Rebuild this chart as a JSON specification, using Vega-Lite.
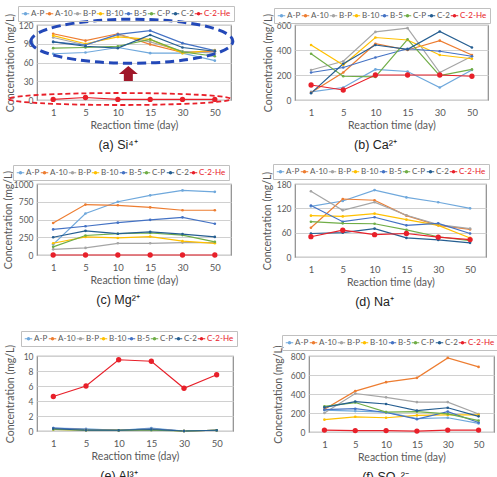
{
"$schema":"https://vega.github.io/schema/vega-lite/v6.json",
"padding":{"left":2,"top":4,"right":0,"bottom":0},
"background":"white",
"config":{
 "view":{"stroke":"#8c8c8c","strokeWidth":1.2},
 "axis":{"labelFont":"Lato","titleFont":"Lato","labelFontSize":9.5,"titleFontSize":10.5,"labelColor":"#595959","titleColor":"#595959","titleFontWeight":"normal","ticks":false,"domain":false,"gridColor":"#d0d0d0","format":"d"},
 "axisX":{"labelAngle":0,"grid":false,"labelPadding":7,"titlePadding":4},
 "axisY":{"labelPadding":4,"labelFontSize":8.5},
 "legend":{"direction":"horizontal","labelFont":"Lato","labelFontSize":8,"labelColor":"#595959","symbolType":"M-1,0L1,0M-0.3,0A0.3,0.3 0 1 1 0.3,0A0.3,0.3 0 1 1 -0.3,0","symbolSize":56,"symbolStrokeWidth":1.1,"symbolOffset":0,"labelOffset":1,"columnPadding":-5,"padding":3,"strokeColor":"#c0c0c0"},
 "title":{"font":"Liberation Sans","fontSize":12.5,"fontWeight":"normal","color":"#222222","orient":"bottom","offset":8,"dx":-16}
},
"data":{"values":[
{"p":"a","s":"A-P","d":"1","v":74},{"p":"a","s":"A-P","d":"5","v":76},{"p":"a","s":"A-P","d":"10","v":84},{"p":"a","s":"A-P","d":"15","v":75},{"p":"a","s":"A-P","d":"30","v":75},{"p":"a","s":"A-P","d":"50","v":63},
{"p":"a","s":"A-10","d":"1","v":106},{"p":"a","s":"A-10","d":"5","v":95},{"p":"a","s":"A-10","d":"10","v":106},{"p":"a","s":"A-10","d":"15","v":89},{"p":"a","s":"A-10","d":"30","v":76},{"p":"a","s":"A-10","d":"50","v":78},
{"p":"a","s":"B-P","d":"1","v":100},{"p":"a","s":"B-P","d":"5","v":88},{"p":"a","s":"B-P","d":"10","v":104},{"p":"a","s":"B-P","d":"15","v":93},{"p":"a","s":"B-P","d":"30","v":78},{"p":"a","s":"B-P","d":"50","v":75},
{"p":"a","s":"B-10","d":"1","v":103},{"p":"a","s":"B-10","d":"5","v":90},{"p":"a","s":"B-10","d":"10","v":101},{"p":"a","s":"B-10","d":"15","v":97},{"p":"a","s":"B-10","d":"30","v":75},{"p":"a","s":"B-10","d":"50","v":80},
{"p":"a","s":"B-5","d":"1","v":93},{"p":"a","s":"B-5","d":"5","v":88},{"p":"a","s":"B-5","d":"10","v":105},{"p":"a","s":"B-5","d":"15","v":111},{"p":"a","s":"B-5","d":"30","v":91},{"p":"a","s":"B-5","d":"50","v":79},
{"p":"a","s":"C-P","d":"1","v":83},{"p":"a","s":"C-P","d":"5","v":84},{"p":"a","s":"C-P","d":"10","v":86},{"p":"a","s":"C-P","d":"15","v":97},{"p":"a","s":"C-P","d":"30","v":77},{"p":"a","s":"C-P","d":"50","v":70},
{"p":"a","s":"C-2","d":"1","v":93},{"p":"a","s":"C-2","d":"5","v":86},{"p":"a","s":"C-2","d":"10","v":83},{"p":"a","s":"C-2","d":"15","v":104},{"p":"a","s":"C-2","d":"30","v":84},{"p":"a","s":"C-2","d":"50","v":78},
{"p":"a","s":"C-2-He","d":"1","v":1},{"p":"a","s":"C-2-He","d":"5","v":4},{"p":"a","s":"C-2-He","d":"10","v":1},{"p":"a","s":"C-2-He","d":"15","v":1},{"p":"a","s":"C-2-He","d":"30","v":1},{"p":"a","s":"C-2-He","d":"50","v":1},
{"p":"b","s":"A-P","d":"1","v":65},{"p":"b","s":"A-P","d":"5","v":100},{"p":"b","s":"A-P","d":"10","v":245},{"p":"b","s":"A-P","d":"15","v":228},{"p":"b","s":"A-P","d":"30","v":100},{"p":"b","s":"A-P","d":"50","v":240},
{"p":"b","s":"A-10","d":"1","v":60},{"p":"b","s":"A-10","d":"5","v":220},{"p":"b","s":"A-10","d":"10","v":450},{"p":"b","s":"A-10","d":"15","v":400},{"p":"b","s":"A-10","d":"30","v":475},{"p":"b","s":"A-10","d":"50","v":360},
{"p":"b","s":"B-P","d":"1","v":240},{"p":"b","s":"B-P","d":"5","v":310},{"p":"b","s":"B-P","d":"10","v":545},{"p":"b","s":"B-P","d":"15","v":575},{"p":"b","s":"B-P","d":"30","v":220},{"p":"b","s":"B-P","d":"50","v":350},
{"p":"b","s":"B-10","d":"1","v":440},{"p":"b","s":"B-10","d":"5","v":280},{"p":"b","s":"B-10","d":"10","v":500},{"p":"b","s":"B-10","d":"15","v":480},{"p":"b","s":"B-10","d":"30","v":360},{"p":"b","s":"B-10","d":"50","v":330},
{"p":"b","s":"B-5","d":"1","v":220},{"p":"b","s":"B-5","d":"5","v":260},{"p":"b","s":"B-5","d":"10","v":340},{"p":"b","s":"B-5","d":"15","v":410},{"p":"b","s":"B-5","d":"30","v":390},{"p":"b","s":"B-5","d":"50","v":350},
{"p":"b","s":"C-P","d":"1","v":370},{"p":"b","s":"C-P","d":"5","v":190},{"p":"b","s":"C-P","d":"10","v":185},{"p":"b","s":"C-P","d":"15","v":485},{"p":"b","s":"C-P","d":"30","v":195},{"p":"b","s":"C-P","d":"50","v":245},
{"p":"b","s":"C-2","d":"1","v":55},{"p":"b","s":"C-2","d":"5","v":290},{"p":"b","s":"C-2","d":"10","v":440},{"p":"b","s":"C-2","d":"15","v":405},{"p":"b","s":"C-2","d":"30","v":548},{"p":"b","s":"C-2","d":"50","v":420},
{"p":"b","s":"C-2-He","d":"1","v":120},{"p":"b","s":"C-2-He","d":"5","v":80},{"p":"b","s":"C-2-He","d":"10","v":200},{"p":"b","s":"C-2-He","d":"15","v":200},{"p":"b","s":"C-2-He","d":"30","v":200},{"p":"b","s":"C-2-He","d":"50","v":190},
{"p":"c","s":"A-P","d":"1","v":150},{"p":"c","s":"A-P","d":"5","v":585},{"p":"c","s":"A-P","d":"10","v":750},{"p":"c","s":"A-P","d":"15","v":840},{"p":"c","s":"A-P","d":"30","v":910},{"p":"c","s":"A-P","d":"50","v":890},
{"p":"c","s":"A-10","d":"1","v":450},{"p":"c","s":"A-10","d":"5","v":710},{"p":"c","s":"A-10","d":"10","v":700},{"p":"c","s":"A-10","d":"15","v":670},{"p":"c","s":"A-10","d":"30","v":630},{"p":"c","s":"A-10","d":"50","v":630},
{"p":"c","s":"B-P","d":"1","v":80},{"p":"c","s":"B-P","d":"5","v":100},{"p":"c","s":"B-P","d":"10","v":165},{"p":"c","s":"B-P","d":"15","v":165},{"p":"c","s":"B-P","d":"30","v":175},{"p":"c","s":"B-P","d":"50","v":175},
{"p":"c","s":"B-10","d":"1","v":165},{"p":"c","s":"B-10","d":"5","v":255},{"p":"c","s":"B-10","d":"10","v":240},{"p":"c","s":"B-10","d":"15","v":260},{"p":"c","s":"B-10","d":"30","v":195},{"p":"c","s":"B-10","d":"50","v":165},
{"p":"c","s":"B-5","d":"1","v":360},{"p":"c","s":"B-5","d":"5","v":405},{"p":"c","s":"B-5","d":"10","v":455},{"p":"c","s":"B-5","d":"15","v":495},{"p":"c","s":"B-5","d":"30","v":530},{"p":"c","s":"B-5","d":"50","v":440},
{"p":"c","s":"C-P","d":"1","v":115},{"p":"c","s":"C-P","d":"5","v":275},{"p":"c","s":"C-P","d":"10","v":300},{"p":"c","s":"C-P","d":"15","v":310},{"p":"c","s":"C-P","d":"30","v":280},{"p":"c","s":"C-P","d":"50","v":185},
{"p":"c","s":"C-2","d":"1","v":250},{"p":"c","s":"C-2","d":"5","v":340},{"p":"c","s":"C-2","d":"10","v":300},{"p":"c","s":"C-2","d":"15","v":325},{"p":"c","s":"C-2","d":"30","v":295},{"p":"c","s":"C-2","d":"50","v":255},
{"p":"c","s":"C-2-He","d":"1","v":0},{"p":"c","s":"C-2-He","d":"5","v":0},{"p":"c","s":"C-2-He","d":"10","v":0},{"p":"c","s":"C-2-He","d":"15","v":0},{"p":"c","s":"C-2-He","d":"30","v":0},{"p":"c","s":"C-2-He","d":"50","v":0},
{"p":"d","s":"A-P","d":"1","v":125},{"p":"d","s":"A-P","d":"5","v":138},{"p":"d","s":"A-P","d":"10","v":165},{"p":"d","s":"A-P","d":"15","v":147},{"p":"d","s":"A-P","d":"30","v":135},{"p":"d","s":"A-P","d":"50","v":120},
{"p":"d","s":"A-10","d":"1","v":72},{"p":"d","s":"A-10","d":"5","v":143},{"p":"d","s":"A-10","d":"10","v":140},{"p":"d","s":"A-10","d":"15","v":102},{"p":"d","s":"A-10","d":"30","v":78},{"p":"d","s":"A-10","d":"50","v":68},
{"p":"d","s":"B-P","d":"1","v":162},{"p":"d","s":"B-P","d":"5","v":115},{"p":"d","s":"B-P","d":"10","v":135},{"p":"d","s":"B-P","d":"15","v":103},{"p":"d","s":"B-P","d":"30","v":80},{"p":"d","s":"B-P","d":"50","v":70},
{"p":"d","s":"B-10","d":"1","v":102},{"p":"d","s":"B-10","d":"5","v":100},{"p":"d","s":"B-10","d":"10","v":107},{"p":"d","s":"B-10","d":"15","v":92},{"p":"d","s":"B-10","d":"30","v":78},{"p":"d","s":"B-10","d":"50","v":47},
{"p":"d","s":"B-5","d":"1","v":127},{"p":"d","s":"B-5","d":"5","v":87},{"p":"d","s":"B-5","d":"10","v":98},{"p":"d","s":"B-5","d":"15","v":78},{"p":"d","s":"B-5","d":"30","v":83},{"p":"d","s":"B-5","d":"50","v":58},
{"p":"d","s":"C-P","d":"1","v":87},{"p":"d","s":"C-P","d":"5","v":83},{"p":"d","s":"C-P","d":"10","v":82},{"p":"d","s":"C-P","d":"15","v":67},{"p":"d","s":"C-P","d":"30","v":50},{"p":"d","s":"C-P","d":"50","v":40},
{"p":"d","s":"C-2","d":"1","v":58},{"p":"d","s":"C-2","d":"5","v":60},{"p":"d","s":"C-2","d":"10","v":70},{"p":"d","s":"C-2","d":"15","v":47},{"p":"d","s":"C-2","d":"30","v":42},{"p":"d","s":"C-2","d":"50","v":35},
{"p":"d","s":"C-2-He","d":"1","v":50},{"p":"d","s":"C-2-He","d":"5","v":66},{"p":"d","s":"C-2-He","d":"10","v":55},{"p":"d","s":"C-2-He","d":"15","v":58},{"p":"d","s":"C-2-He","d":"30","v":49},{"p":"d","s":"C-2-He","d":"50","v":43},
{"p":"e","s":"A-P","d":"1","v":0.4},{"p":"e","s":"A-P","d":"5","v":0.3},{"p":"e","s":"A-P","d":"10","v":0.1},{"p":"e","s":"A-P","d":"15","v":0.4},{"p":"e","s":"A-P","d":"30","v":0.0},{"p":"e","s":"A-P","d":"50","v":0.1},
{"p":"e","s":"A-10","d":"1","v":0.3},{"p":"e","s":"A-10","d":"5","v":0.2},{"p":"e","s":"A-10","d":"10","v":0.1},{"p":"e","s":"A-10","d":"15","v":0.2},{"p":"e","s":"A-10","d":"30","v":0.0},{"p":"e","s":"A-10","d":"50","v":0.1},
{"p":"e","s":"B-P","d":"1","v":0.3},{"p":"e","s":"B-P","d":"5","v":0.2},{"p":"e","s":"B-P","d":"10","v":0.1},{"p":"e","s":"B-P","d":"15","v":0.3},{"p":"e","s":"B-P","d":"30","v":0.0},{"p":"e","s":"B-P","d":"50","v":0.1},
{"p":"e","s":"B-10","d":"1","v":0.2},{"p":"e","s":"B-10","d":"5","v":0.1},{"p":"e","s":"B-10","d":"10","v":0.1},{"p":"e","s":"B-10","d":"15","v":0.2},{"p":"e","s":"B-10","d":"30","v":0.0},{"p":"e","s":"B-10","d":"50","v":0.1},
{"p":"e","s":"B-5","d":"1","v":0.4},{"p":"e","s":"B-5","d":"5","v":0.2},{"p":"e","s":"B-5","d":"10","v":0.1},{"p":"e","s":"B-5","d":"15","v":0.3},{"p":"e","s":"B-5","d":"30","v":0.0},{"p":"e","s":"B-5","d":"50","v":0.1},
{"p":"e","s":"C-P","d":"1","v":0.2},{"p":"e","s":"C-P","d":"5","v":0.1},{"p":"e","s":"C-P","d":"10","v":0.1},{"p":"e","s":"C-P","d":"15","v":0.1},{"p":"e","s":"C-P","d":"30","v":0.0},{"p":"e","s":"C-P","d":"50","v":0.1},
{"p":"e","s":"C-2","d":"1","v":0.3},{"p":"e","s":"C-2","d":"5","v":0.1},{"p":"e","s":"C-2","d":"10","v":0.1},{"p":"e","s":"C-2","d":"15","v":0.2},{"p":"e","s":"C-2","d":"30","v":0.0},{"p":"e","s":"C-2","d":"50","v":0.1},
{"p":"e","s":"C-2-He","d":"1","v":4.6},{"p":"e","s":"C-2-He","d":"5","v":6.0},{"p":"e","s":"C-2-He","d":"10","v":9.5},{"p":"e","s":"C-2-He","d":"15","v":9.3},{"p":"e","s":"C-2-He","d":"30","v":5.7},{"p":"e","s":"C-2-He","d":"50","v":7.5},
{"p":"f","s":"A-P","d":"1","v":230},{"p":"f","s":"A-P","d":"5","v":220},{"p":"f","s":"A-P","d":"10","v":210},{"p":"f","s":"A-P","d":"15","v":140},{"p":"f","s":"A-P","d":"30","v":150},{"p":"f","s":"A-P","d":"50","v":90},
{"p":"f","s":"A-10","d":"1","v":240},{"p":"f","s":"A-10","d":"5","v":430},{"p":"f","s":"A-10","d":"10","v":525},{"p":"f","s":"A-10","d":"15","v":570},{"p":"f","s":"A-10","d":"30","v":780},{"p":"f","s":"A-10","d":"50","v":685},
{"p":"f","s":"B-P","d":"1","v":200},{"p":"f","s":"B-P","d":"5","v":405},{"p":"f","s":"B-P","d":"10","v":365},{"p":"f","s":"B-P","d":"15","v":315},{"p":"f","s":"B-P","d":"30","v":315},{"p":"f","s":"B-P","d":"50","v":190},
{"p":"f","s":"B-10","d":"1","v":130},{"p":"f","s":"B-10","d":"5","v":160},{"p":"f","s":"B-10","d":"10","v":150},{"p":"f","s":"B-10","d":"15","v":175},{"p":"f","s":"B-10","d":"30","v":180},{"p":"f","s":"B-10","d":"50","v":180},
{"p":"f","s":"B-5","d":"1","v":235},{"p":"f","s":"B-5","d":"5","v":245},{"p":"f","s":"B-5","d":"10","v":205},{"p":"f","s":"B-5","d":"15","v":135},{"p":"f","s":"B-5","d":"30","v":215},{"p":"f","s":"B-5","d":"50","v":100},
{"p":"f","s":"C-P","d":"1","v":270},{"p":"f","s":"C-P","d":"5","v":310},{"p":"f","s":"C-P","d":"10","v":210},{"p":"f","s":"C-P","d":"15","v":215},{"p":"f","s":"C-P","d":"30","v":190},{"p":"f","s":"C-P","d":"50","v":120},
{"p":"f","s":"C-2","d":"1","v":260},{"p":"f","s":"C-2","d":"5","v":320},{"p":"f","s":"C-2","d":"10","v":295},{"p":"f","s":"C-2","d":"15","v":225},{"p":"f","s":"C-2","d":"30","v":255},{"p":"f","s":"C-2","d":"50","v":165},
{"p":"f","s":"C-2-He","d":"1","v":20},{"p":"f","s":"C-2-He","d":"5","v":15},{"p":"f","s":"C-2-He","d":"10","v":15},{"p":"f","s":"C-2-He","d":"15","v":10},{"p":"f","s":"C-2-He","d":"30","v":20},{"p":"f","s":"C-2-He","d":"50","v":20}
]},
"spacing":19,
"resolve":{"scale":{"color":"independent"},"legend":{"color":"independent"}},
"vconcat":[
{"spacing":9,"resolve":{"scale":{"color":"independent"},"legend":{"color":"independent"}},"vconcat":[
{"spacing":64,"bounds":"flush","resolve":{"scale":{"color":"independent"},"legend":{"color":"independent"}},"hconcat":[
 {"width":194,"height":75,"title":{"text":"(a) Si⁴⁺"},
  "encoding":{"x":{"field":"d","type":"ordinal","sort":["1","5","10","15","30","50"],"scale":{"type":"point","padding":0.5},"title":"Reaction time (day)"},
   "y":{"field":"v","type":"quantitative","scale":{"domain":[0,120]},"axis":{"values":[0,30,60,90,120],"titlePadding":3},"title":"Concentration (mg/L)"}},
  "layer":[
   {"transform":[{"filter":"datum.p==='a'"}],"mark":{"type":"line","strokeWidth":1.2},"encoding":{"color":{"field":"s","type":"nominal","scale":{"domain":["A-P","A-10","B-P","B-10","B-5","C-P","C-2","C-2-He"],"range":["#6fa8dc","#ed7d31","#a5a5a5","#ffc000","#4472c4","#70ad47","#255e91","#e8202a"]},"legend":{"title":null,"orient":"none","legendX":-19,"legendY":-19,"encode":{"labels":{"update":{"fill":{"signal":"datum.value==='C-2-He' ? '#e8202a' : '#595959'"}}}}}}}},
   {"transform":[{"filter":"datum.p==='a' && datum.s!=='C-2-He'"}],"mark":{"type":"point","filled":true,"size":7,"opacity":1},"encoding":{"color":{"field":"s","type":"nominal"}}},
   {"transform":[{"filter":"datum.p==='a' && datum.s==='C-2-He'"}],"mark":{"type":"point","filled":true,"size":28,"opacity":1},"encoding":{"color":{"field":"s","type":"nominal"}}},
   {"data":{"values":[{"d":"10","v":94}]},"mark":{"type":"point","shape":"M-0.861,0A1,0.218 0 1 0 1.139,0A1,0.218 0 1 0 -0.861,0Z","size":40804,"filled":false,"stroke":"#2348b8","strokeWidth":3,"strokeDash":[9,5],"opacity":1}},
   {"data":{"values":[{"d":"10","v":1.6}]},"mark":{"type":"point","shape":"M-0.982,0A1,0.054 0 1 0 1.018,0A1,0.054 0 1 0 -0.982,0Z","size":49284,"filled":false,"stroke":"#e8202a","strokeWidth":1.8,"strokeDash":[5,3],"opacity":1}},
   {"data":{"values":[{"d":"10","v":42.4}]},"mark":{"type":"point","shape":"M1.05,-0.75L2,0.05L1.5,0.05L1.5,0.75L0.6,0.75L0.6,0.05L0.1,0.05Z","size":400,"filled":true,"fill":"#a01729","strokeWidth":0,"opacity":1}}
  ]},
 {"width":193,"height":75,"title":{"text":"(b) Ca²⁺"},
  "encoding":{"x":{"field":"d","type":"ordinal","sort":["1","5","10","15","30","50"],"scale":{"type":"point","padding":0.5},"title":"Reaction time (day)"},
   "y":{"field":"v","type":"quantitative","scale":{"domain":[0,600]},"axis":{"values":[0,200,400,600],"titlePadding":3},"title":"Concentration (mg/L)"}},
  "layer":[
   {"transform":[{"filter":"datum.p==='b'"}],"mark":{"type":"line","strokeWidth":1.2},"encoding":{"color":{"field":"s","type":"nominal","scale":{"domain":["A-P","A-10","B-P","B-10","B-5","C-P","C-2","C-2-He"],"range":["#6fa8dc","#ed7d31","#a5a5a5","#ffc000","#4472c4","#70ad47","#255e91","#e8202a"]},"legend":{"title":null,"orient":"none","legendX":-21,"legendY":-17,"encode":{"labels":{"update":{"fill":{"signal":"datum.value==='C-2-He' ? '#e8202a' : '#595959'"}}}}}}}},
   {"transform":[{"filter":"datum.p==='b' && datum.s!=='C-2-He'"}],"mark":{"type":"point","filled":true,"size":7,"opacity":1},"encoding":{"color":{"field":"s","type":"nominal"}}},
   {"transform":[{"filter":"datum.p==='b' && datum.s==='C-2-He'"}],"mark":{"type":"point","filled":true,"size":28,"opacity":1},"encoding":{"color":{"field":"s","type":"nominal"}}}
  ]}
]},
{"spacing":64,"bounds":"flush","resolve":{"scale":{"color":"independent"},"legend":{"color":"independent"}},"hconcat":[
 {"width":194,"height":71,"title":{"text":"(c) Mg²⁺"},
  "encoding":{"x":{"field":"d","type":"ordinal","sort":["1","5","10","15","30","50"],"scale":{"type":"point","padding":0.5},"title":"Reaction time (day)"},
   "y":{"field":"v","type":"quantitative","scale":{"domain":[0,1000]},"axis":{"values":[0,250,500,750,1000],"titlePadding":0},"title":"Concentration (mg/L)"}},
  "layer":[
   {"transform":[{"filter":"datum.p==='c'"}],"mark":{"type":"line","strokeWidth":1.2},"encoding":{"color":{"field":"s","type":"nominal","scale":{"domain":["A-P","A-10","B-P","B-10","B-5","C-P","C-2","C-2-He"],"range":["#6fa8dc","#ed7d31","#a5a5a5","#ffc000","#4472c4","#70ad47","#255e91","#e8202a"]},"legend":{"title":null,"orient":"none","legendX":-24,"legendY":-19,"encode":{"labels":{"update":{"fill":{"signal":"datum.value==='C-2-He' ? '#e8202a' : '#595959'"}}}}}}}},
   {"transform":[{"filter":"datum.p==='c' && datum.s!=='C-2-He'"}],"mark":{"type":"point","filled":true,"size":7,"opacity":1},"encoding":{"color":{"field":"s","type":"nominal"}}},
   {"transform":[{"filter":"datum.p==='c' && datum.s==='C-2-He'"}],"mark":{"type":"point","filled":true,"size":28,"opacity":1},"encoding":{"color":{"field":"s","type":"nominal"}}}
  ]},
 {"width":191,"height":73,"title":{"text":"(d) Na⁺"},
  "encoding":{"x":{"field":"d","type":"ordinal","sort":["1","5","10","15","30","50"],"scale":{"type":"point","padding":0.5},"title":"Reaction time (day)"},
   "y":{"field":"v","type":"quantitative","scale":{"domain":[0,180]},"axis":{"values":[0,60,120,180],"titlePadding":4},"title":"Concentration (mg/L)"}},
  "layer":[
   {"transform":[{"filter":"datum.p==='d'"}],"mark":{"type":"line","strokeWidth":1.2},"encoding":{"color":{"field":"s","type":"nominal","scale":{"domain":["A-P","A-10","B-P","B-10","B-5","C-P","C-2","C-2-He"],"range":["#6fa8dc","#ed7d31","#a5a5a5","#ffc000","#4472c4","#70ad47","#255e91","#e8202a"]},"legend":{"title":null,"orient":"none","legendX":-22,"legendY":-20,"encode":{"labels":{"update":{"fill":{"signal":"datum.value==='C-2-He' ? '#e8202a' : '#595959'"}}}}}}}},
   {"transform":[{"filter":"datum.p==='d' && datum.s!=='C-2-He'"}],"mark":{"type":"point","filled":true,"size":7,"opacity":1},"encoding":{"color":{"field":"s","type":"nominal"}}},
   {"transform":[{"filter":"datum.p==='d' && datum.s==='C-2-He'"}],"mark":{"type":"point","filled":true,"size":28,"opacity":1},"encoding":{"color":{"field":"s","type":"nominal"}}}
  ]}
]}
]},
{"spacing":76,"bounds":"flush","resolve":{"scale":{"color":"independent"},"legend":{"color":"independent"}},"hconcat":[
 {"width":196,"height":75,"title":{"text":"(e) Al³⁺"},
  "encoding":{"x":{"field":"d","type":"ordinal","sort":["1","5","10","15","30","50"],"scale":{"type":"point","padding":0.5},"title":"Reaction time (day)"},
   "y":{"field":"v","type":"quantitative","scale":{"domain":[0,10]},"axis":{"values":[0,2,4,6,8,10],"titlePadding":8},"title":"Concentration (mg/L)"}},
  "layer":[
   {"transform":[{"filter":"datum.p==='e'"}],"mark":{"type":"line","strokeWidth":1.2},"encoding":{"color":{"field":"s","type":"nominal","scale":{"domain":["A-P","A-10","B-P","B-10","B-5","C-P","C-2","C-2-He"],"range":["#6fa8dc","#ed7d31","#a5a5a5","#ffc000","#4472c4","#70ad47","#255e91","#e8202a"]},"legend":{"title":null,"orient":"none","legendX":-16,"legendY":-25,"encode":{"labels":{"update":{"fill":{"signal":"datum.value==='C-2-He' ? '#e8202a' : '#595959'"}}}}}}}},
   {"transform":[{"filter":"datum.p==='e' && datum.s!=='C-2-He'"}],"mark":{"type":"point","filled":true,"size":7,"opacity":1},"encoding":{"color":{"field":"s","type":"nominal"}}},
   {"transform":[{"filter":"datum.p==='e' && datum.s==='C-2-He'"}],"mark":{"type":"point","filled":true,"size":28,"opacity":1},"encoding":{"color":{"field":"s","type":"nominal"}}}
  ]},
 {"width":185,"height":76,"title":{"text":"(f) SO₄²⁻"},
  "encoding":{"x":{"field":"d","type":"ordinal","sort":["1","5","10","15","30","50"],"scale":{"type":"point","padding":0.5},"title":"Reaction time (day)"},
   "y":{"field":"v","type":"quantitative","scale":{"domain":[0,800]},"axis":{"values":[0,200,400,600,800],"titlePadding":7},"title":"Concentration (mg/L)"}},
  "layer":[
   {"transform":[{"filter":"datum.p==='f'"}],"mark":{"type":"line","strokeWidth":1.2},"encoding":{"color":{"field":"s","type":"nominal","scale":{"domain":["A-P","A-10","B-P","B-10","B-5","C-P","C-2","C-2-He"],"range":["#6fa8dc","#ed7d31","#a5a5a5","#ffc000","#4472c4","#70ad47","#255e91","#e8202a"]},"legend":{"title":null,"orient":"none","legendX":-27,"legendY":-21,"encode":{"labels":{"update":{"fill":{"signal":"datum.value==='C-2-He' ? '#e8202a' : '#595959'"}}}}}}}},
   {"transform":[{"filter":"datum.p==='f' && datum.s!=='C-2-He'"}],"mark":{"type":"point","filled":true,"size":7,"opacity":1},"encoding":{"color":{"field":"s","type":"nominal"}}},
   {"transform":[{"filter":"datum.p==='f' && datum.s==='C-2-He'"}],"mark":{"type":"point","filled":true,"size":28,"opacity":1},"encoding":{"color":{"field":"s","type":"nominal"}}}
  ]}
]}
]
}
